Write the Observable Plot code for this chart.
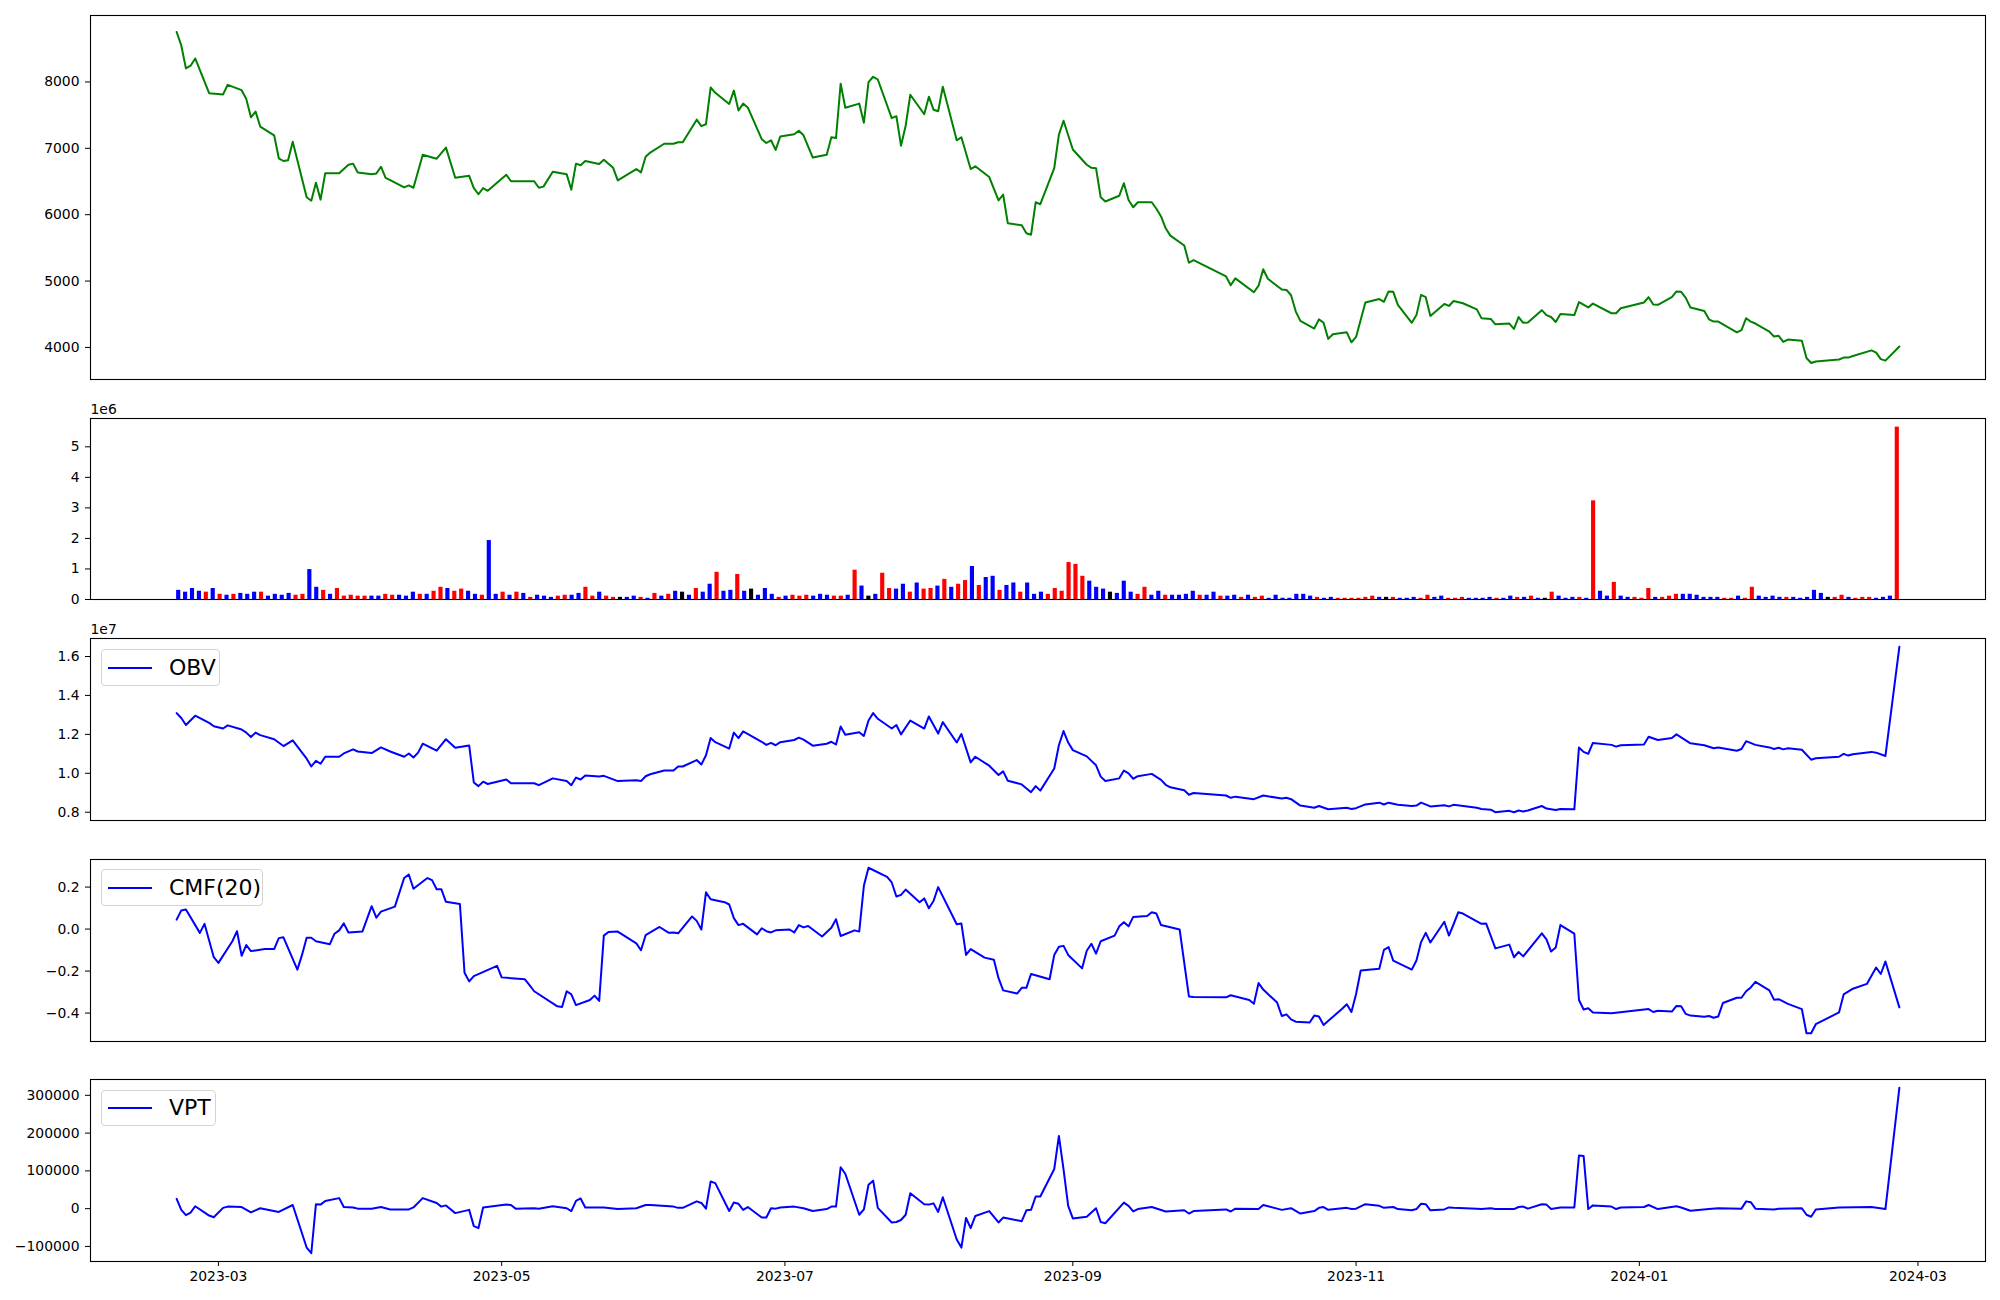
<!DOCTYPE html>
<html>
<head>
<meta charset="utf-8">
<script src="https://cdn.jsdelivr.net/npm/d3@7"></script>
<script src="https://cdn.jsdelivr.net/npm/@observablehq/plot@0.6"></script>
<style>
  html, body { margin: 0; padding: 0; background: #fff; }
  #fig { position: relative; width: 2000px; height: 1300px; overflow: hidden; background: #fff; font-family: "DejaVu Sans", sans-serif; }
  .panel { position: absolute; left: 0; }
  .legend { position: absolute; box-sizing: border-box; border: 1px solid #d4d4d4; border-radius: 4px; background: rgba(255,255,255,0.85);
            display: flex; align-items: center; font-family: "DejaVu Sans", sans-serif; font-size: 22px; color: #000; }
  .legend .swatch { display: inline-block; width: 44px; height: 2px; margin-left: 6px; }
  .legend .label { margin-left: 17px; line-height: 1; }
</style>
</head>
<body>
<div id="fig"></div>
<script>
// ---------------- data ----------------
const START_DATE = "2023-02-20";           // first trading day shown
const END_DAY = 371;                       // last trading day: 2024-02-26 (days after START_DATE)
const X_TICKS = ["2023-03-01","2023-05-01","2023-07-01","2023-09-01","2023-11-01","2024-01-01","2024-03-01"];

// closing price: [calendar days after START_DATE, price]
const PRICE = [[0,8752],[1,8550],[2,8204],[3,8245],[4,8354],[7,7830],[10,7812],[11,7957],[14,7876],[15,7743],[16,7467],[17,7553],[18,7328],[21,7196],[22,6850],[23,6809],[24,6821],[25,7098],[28,6262],[29,6210],[30,6481],[31,6227],[32,6625],[35,6625],[37,6752],[38,6769],[39,6637],[42,6608],[43,6619],[44,6723],[45,6556],[46,6521],[49,6412],[50,6441],[51,6406],[53,6902],[56,6844],[58,7011],[60,6556],[63,6585],[64,6400],[65,6308],[66,6400],[67,6360],[71,6602],[72,6504],[77,6504],[78,6406],[79,6423],[81,6648],[84,6608],[85,6377],[86,6769],[87,6746],[88,6810],[91,6763],[92,6827],[94,6706],[95,6516],[99,6688],[100,6637],[101,6873],[102,6936],[105,7069],[107,7069],[108,7092],[109,7092],[112,7432],[113,7334],[114,7363],[115,7916],[116,7836],[119,7668],[120,7870],[121,7570],[122,7674],[123,7616],[126,7138],[127,7080],[128,7121],[129,6977],[130,7178],[133,7213],[134,7265],[135,7196],[137,6861],[140,6902],[141,7167],[142,7155],[143,7974],[144,7611],[147,7674],[148,7386],[149,7997],[150,8078],[151,8037],[154,7455],[155,7484],[156,7040],[157,7340],[158,7807],[161,7513],[162,7778],[163,7582],[164,7559],[165,7928],[168,7121],[169,7167],[171,6688],[172,6729],[175,6567],[177,6216],[178,6302],[179,5870],[182,5841],[183,5720],[184,5697],[185,6187],[186,6158],[189,6700],[190,7207],[191,7415],[193,6982],[196,6752],[197,6706],[198,6700],[199,6262],[200,6198],[203,6285],[204,6475],[205,6222],[206,6112],[207,6187],[210,6187],[211,6089],[212,5974],[213,5795],[214,5685],[217,5536],[218,5276],[219,5317],[226,5069],[227,4936],[228,5040],[232,4832],[233,4930],[234,5178],[235,5034],[238,4873],[239,4867],[240,4786],[241,4544],[242,4400],[245,4285],[246,4423],[247,4371],[248,4129],[249,4198],[252,4227],[253,4077],[254,4158],[256,4677],[259,4729],[260,4688],[261,4844],[262,4838],[263,4642],[266,4371],[267,4487],[268,4792],[269,4757],[270,4475],[273,4654],[274,4625],[275,4700],[277,4665],[280,4573],[281,4441],[283,4429],[284,4348],[287,4360],[288,4279],[289,4458],[290,4371],[291,4377],[294,4562],[295,4487],[296,4458],[297,4383],[298,4504],[301,4487],[302,4683],[304,4602],[305,4660],[309,4515],[310,4515],[311,4590],[316,4677],[317,4757],[318,4648],[319,4642],[322,4757],[323,4844],[324,4838],[325,4746],[326,4602],[329,4550],[330,4423],[331,4389],[332,4389],[336,4227],[337,4262],[338,4440],[339,4389],[340,4360],[343,4239],[344,4164],[345,4175],[346,4083],[347,4118],[350,4100],[351,3841],[352,3766],[353,3789],[358,3818],[359,3847],[360,3847],[361,3870],[365,3956],[366,3922],[367,3824],[368,3801],[371,4014]];

// daily volume in millions (one bar per trading day, in order) and day direction (r = up, b = down, k = unchanged)
const VOLUME_M = [
  .30,.24,.36,.27,.24,.36,.17,.14,.17,.20, .17,.24,.24,.11,.17,.14,.20,.14,.17,.98,
  .40,.30,.17,.36,.11,.14,.11,.11,.11,.11, .17,.14,.14,.11,.24,.17,.17,.27,.40,.36,
  .27,.34,.27,.17,.14,1.93,.17,.24,.14,.24, .20,.07,.14,.11,.07,.11,.14,.14,.20,.40,
  .11,.24,.11,.07,.07,.07,.11,.07,.04,.20, .11,.17,.27,.24,.14,.36,.24,.50,.89,.27,
  .30,.82,.27,.34,.14,.36,.17,.07,.11,.14, .11,.14,.11,.17,.14,.11,.11,.14,.96,.44,
  .11,.17,.86,.36,.34,.50,.24,.54,.34,.36, .44,.66,.40,.50,.62,1.08,.46,.72,.76,.30,
  .46,.54,.24,.54,.17,.24,.17,.36,.27,1.21, 1.15,.76,.60,.40,.34,.24,.20,.60,.24,.17,
  .40,.14,.27,.14,.14,.14,.17,.27,.14,.14, .24,.11,.11,.14,.07,.14,.07,.11,.04,.14,
  .04,.04,.17,.17,.11,.07,.04,.07,.04,.04, .04,.04,.07,.11,.07,.07,.07,.04,.04,.07,
  .04,.14,.07,.11,.04,.04,.07,.04,.04,.04, .07,.04,.04,.11,.07,.07,.11,.04,.04,.24,
  .11,.04,.07,.07,.04,3.23,.27,.11,.56,.11, .07,.07,.04,.36,.07,.07,.11,.17,.17,.17,
  .14,.07,.07,.07,.04,.04,.11,.04,.40,.11, .07,.11,.07,.07,.07,.04,.07,.30,.20,.07,
  .07,.14,.07,.04,.07,.07,.04,.07,.11,5.645
];
const VOLUME_DIR = (
  "bbbbrbrbrb" + "bbrbbbbrrb" + "brbrrrrrbb" + "rrbbbrbrrb" + "rrbbrbbrbr" +
  "brbbbrrbbr" + "rbrrkbbrbr" + "brbkbrbbrb" + "brbkbbbrbr" + "rrbbbrrbrb" +
  "kbrrbbrbrr" + "brbrrbrbbr" + "bbrbbbrrrr" + "rrbbbkbbbr" + "rbbrbbbbrb" +
  "brbbrbrrbb" + "bbbbbrbbrr" + "rrrrbkrbbb" + "rrbbrrrbbb" + "brbbrbrbkr" +
  "bbbrbrbbrb" + "brrrbrrrbb" + "bbbbrrbrrb" + "bbbrbbbbbk" + "rrbrrrbbbr"
).split("");

// On-Balance Volume in units of 1e7
const OBV_E7 = [[0,1.309],[1,1.284],[2,1.248],[4,1.296],[7,1.259],[8,1.242],[10,1.230],[11,1.246],[14,1.225],[15,1.209],[16,1.186],[17,1.209],[18,1.196],[21,1.175],[23,1.140],[25,1.169],[28,1.075],[29,1.035],[30,1.064],[31,1.049],[32,1.085],[35,1.085],[36,1.102],[38,1.123],[39,1.112],[42,1.104],[44,1.133],[46,1.112],[49,1.085],[50,1.102],[51,1.081],[52,1.106],[53,1.152],[56,1.116],[58,1.175],[60,1.131],[63,1.143],[64,0.953],[65,0.934],[66,0.957],[67,0.945],[71,0.968],[72,0.949],[77,0.949],[78,0.939],[81,0.974],[84,0.960],[85,0.939],[86,0.978],[87,0.968],[88,0.989],[91,0.983],[92,0.987],[95,0.960],[99,0.964],[100,0.960],[101,0.985],[102,0.995],[105,1.014],[107,1.014],[108,1.035],[109,1.035],[112,1.068],[113,1.045],[114,1.093],[115,1.181],[116,1.160],[119,1.127],[120,1.209],[121,1.181],[122,1.215],[126,1.162],[127,1.146],[128,1.156],[129,1.144],[130,1.160],[133,1.171],[134,1.183],[135,1.173],[137,1.142],[140,1.152],[141,1.162],[142,1.148],[143,1.240],[144,1.198],[147,1.211],[148,1.192],[149,1.271],[150,1.309],[151,1.280],[154,1.230],[155,1.248],[156,1.200],[158,1.271],[161,1.230],[162,1.292],[164,1.204],[165,1.263],[168,1.158],[169,1.202],[171,1.056],[172,1.085],[175,1.039],[177,0.991],[178,1.010],[179,0.962],[182,0.943],[184,0.903],[185,0.934],[186,0.911],[189,1.025],[190,1.144],[191,1.217],[192,1.158],[193,1.119],[196,1.087],[198,1.041],[199,0.983],[200,0.960],[203,0.974],[204,1.014],[205,1.000],[206,0.972],[207,0.985],[210,0.997],[212,0.966],[213,0.941],[214,0.928],[217,0.913],[218,0.890],[219,0.899],[226,0.886],[227,0.874],[228,0.880],[232,0.867],[234,0.886],[238,0.870],[239,0.874],[240,0.867],[242,0.834],[245,0.823],[246,0.832],[248,0.815],[252,0.823],[253,0.817],[254,0.821],[256,0.840],[259,0.849],[260,0.840],[261,0.849],[263,0.838],[266,0.832],[267,0.834],[268,0.849],[270,0.830],[273,0.836],[274,0.830],[275,0.838],[280,0.823],[281,0.817],[283,0.813],[284,0.800],[287,0.807],[288,0.800],[289,0.809],[290,0.804],[291,0.809],[294,0.832],[295,0.819],[297,0.811],[298,0.817],[301,0.815],[302,1.133],[303,1.110],[304,1.100],[305,1.156],[309,1.146],[310,1.137],[311,1.144],[316,1.148],[317,1.188],[319,1.171],[322,1.181],[323,1.200],[324,1.185],[326,1.154],[329,1.144],[331,1.129],[332,1.133],[336,1.116],[337,1.125],[338,1.165],[340,1.146],[343,1.133],[344,1.125],[345,1.131],[346,1.123],[347,1.129],[350,1.121],[352,1.070],[353,1.077],[358,1.085],[359,1.100],[360,1.091],[361,1.098],[365,1.110],[366,1.106],[368,1.089],[371,1.650]];

// Chaikin Money Flow (20)
const CMF20 = [[0,0.045],[1,0.089],[2,0.093],[5,-0.018],[6,0.025],[8,-0.134],[9,-0.161],[12,-0.058],[13,-0.010],[14,-0.127],[15,-0.076],[16,-0.105],[19,-0.095],[21,-0.095],[22,-0.043],[23,-0.039],[26,-0.193],[27,-0.123],[28,-0.041],[29,-0.041],[30,-0.058],[33,-0.072],[34,-0.022],[35,-0.006],[36,0.027],[37,-0.016],[40,-0.012],[42,0.109],[43,0.054],[44,0.083],[47,0.107],[49,0.243],[50,0.260],[51,0.192],[54,0.243],[55,0.233],[56,0.190],[57,0.190],[58,0.130],[61,0.120],[62,-0.208],[63,-0.249],[64,-0.224],[69,-0.175],[70,-0.230],[75,-0.239],[76,-0.267],[77,-0.296],[82,-0.368],[83,-0.371],[84,-0.296],[85,-0.311],[86,-0.362],[89,-0.338],[90,-0.317],[91,-0.342],[92,-0.031],[93,-0.014],[95,-0.012],[99,-0.068],[100,-0.101],[101,-0.029],[104,0.010],[106,-0.018],[107,-0.016],[108,-0.020],[111,0.060],[112,0.039],[113,-0.002],[114,0.175],[115,0.142],[118,0.128],[119,0.117],[120,0.052],[121,0.019],[122,0.025],[125,-0.025],[126,0.004],[127,-0.010],[128,-0.016],[129,-0.006],[132,-0.002],[133,-0.016],[134,0.019],[135,0.008],[136,0.015],[139,-0.035],[141,0.006],[142,0.047],[143,-0.033],[146,-0.006],[147,-0.012],[148,0.206],[149,0.292],[153,0.249],[154,0.222],[155,0.155],[156,0.163],[157,0.188],[160,0.128],[161,0.146],[162,0.099],[163,0.134],[164,0.200],[168,0.023],[169,0.027],[170,-0.123],[171,-0.095],[174,-0.136],[176,-0.146],[177,-0.234],[178,-0.292],[181,-0.307],[182,-0.280],[183,-0.280],[184,-0.214],[188,-0.239],[189,-0.123],[190,-0.084],[191,-0.080],[192,-0.123],[195,-0.187],[196,-0.103],[197,-0.070],[198,-0.117],[199,-0.058],[202,-0.031],[203,0.013],[204,0.033],[205,0.013],[206,0.058],[209,0.062],[210,0.080],[211,0.074],[212,0.019],[216,-0.002],[218,-0.321],[219,-0.323],[226,-0.325],[227,-0.315],[231,-0.338],[232,-0.356],[233,-0.257],[234,-0.288],[237,-0.350],[238,-0.414],[239,-0.406],[240,-0.430],[241,-0.441],[244,-0.445],[245,-0.412],[246,-0.416],[247,-0.457],[251,-0.379],[252,-0.358],[253,-0.395],[254,-0.309],[255,-0.197],[259,-0.189],[260,-0.099],[261,-0.086],[262,-0.150],[266,-0.193],[267,-0.150],[268,-0.062],[269,-0.018],[270,-0.064],[273,0.035],[274,-0.031],[275,0.023],[276,0.080],[277,0.074],[281,0.025],[282,0.027],[284,-0.092],[287,-0.074],[288,-0.134],[289,-0.109],[290,-0.130],[294,-0.020],[295,-0.049],[296,-0.107],[297,-0.088],[298,0.019],[301,-0.022],[302,-0.338],[303,-0.383],[304,-0.377],[305,-0.397],[309,-0.401],[317,-0.381],[318,-0.395],[319,-0.389],[322,-0.393],[323,-0.366],[324,-0.368],[325,-0.404],[326,-0.412],[329,-0.418],[330,-0.414],[331,-0.422],[332,-0.416],[333,-0.352],[336,-0.327],[337,-0.327],[338,-0.296],[339,-0.278],[340,-0.251],[343,-0.292],[344,-0.336],[345,-0.334],[347,-0.356],[350,-0.381],[351,-0.496],[352,-0.496],[353,-0.453],[358,-0.397],[359,-0.311],[361,-0.284],[364,-0.261],[366,-0.183],[367,-0.214],[368,-0.154],[371,-0.373]];

// Volume Price Trend
const VPT = [[0,25800],[1,-3200],[2,-17200],[3,-10700],[4,6400],[7,-18300],[8,-22600],[10,2100],[11,5400],[14,4300],[16,-9700],[18,1100],[22,-8600],[25,9700],[28,-103000],[29,-118000],[30,11800],[31,10700],[32,20400],[35,27900],[36,4300],[38,3200],[39,0],[42,0],[44,4300],[46,-2100],[50,-2100],[51,3200],[53,27900],[56,15000],[57,5400],[58,8600],[60,-11800],[63,-3200],[64,-46200],[65,-51600],[66,3200],[71,10700],[72,9700],[73,0],[77,1100],[78,0],[81,6400],[84,1100],[85,-6400],[86,20400],[87,26900],[88,3200],[92,3200],[95,-1100],[99,1100],[101,9700],[102,9700],[107,5400],[108,2100],[109,2100],[112,19300],[113,15000],[114,0],[115,72000],[116,67700],[119,-6400],[120,16100],[121,12900],[122,-3200],[123,4300],[126,-23600],[127,-23600],[128,1100],[129,0],[130,3200],[133,5400],[135,1100],[137,-6400],[140,-1100],[141,5400],[142,5400],[143,109600],[144,92400],[147,-16100],[148,-2100],[149,63400],[150,74100],[151,2100],[154,-36500],[155,-35400],[156,-30100],[157,-16100],[158,40800],[161,11800],[162,10700],[163,14000],[164,-8600],[165,30100],[168,-81600],[169,-103100],[170,-24700],[171,-51600],[172,-19300],[175,-6400],[177,-36500],[178,-23600],[182,-33300],[183,-4300],[184,-3200],[185,32200],[186,32200],[189,105000],[190,192500],[191,104200],[192,7500],[193,-25800],[196,-21500],[198,1100],[199,-35400],[200,-38700],[204,16100],[205,7500],[206,-7500],[207,-1100],[210,4300],[213,-7500],[217,-4300],[218,-12900],[219,-6400],[226,-2100],[227,-7500],[228,0],[233,-1100],[234,9700],[238,-3200],[240,1100],[242,-12900],[245,-6400],[246,2100],[247,4300],[248,-3200],[252,2100],[253,-1100],[254,0],[256,11800],[259,7500],[260,2100],[262,4300],[263,-1100],[266,-4300],[267,-1100],[268,12900],[269,11800],[270,-4300],[273,-2100],[274,3200],[275,2100],[280,0],[281,-1100],[283,1100],[284,-1100],[288,-1100],[289,4300],[290,5400],[291,0],[294,11800],[295,10700],[296,-1100],[298,3200],[301,3200],[302,140700],[303,139600],[304,-1100],[305,8600],[309,5400],[310,-1100],[311,3200],[316,4300],[317,9700],[319,-1100],[323,6400],[324,3200],[326,-5400],[330,-1100],[332,1100],[337,0],[338,19300],[339,17200],[340,0],[344,-2100],[345,0],[350,1100],[351,-16100],[352,-21500],[353,-2100],[358,3200],[365,4300],[368,-1100],[371,320000]];

const PRICE_TICKS = [4000, 5000, 6000, 7000, 8000];
const VOLUME_TICKS = [0, 1, 2, 3, 4, 5];
const OBV_TICKS = [0.8, 1.0, 1.2, 1.4, 1.6];
const CMF_TICKS = [-0.4, -0.2, 0.0, 0.2];
const VPT_TICKS = [-100000, 0, 100000, 200000, 300000];

// ---------------- helpers ----------------
const start = new Date(START_DATE + "T00:00:00Z");
const toDate = d => d3.utcDay.offset(start, d);
const toRows = arr => arr.map(([d, v]) => ({date: toDate(d), value: v}));
const end = toDate(END_DAY);
const span = end - start;
const xDomain = [new Date(+start - 0.05 * span), new Date(+end + 0.05 * span)];
const padded = vals => { const [a, b] = d3.extent(vals); const r = b - a; return [a - 0.05 * r, b + 0.05 * r]; };

const FONT = "DejaVu Sans";
const baseStyle = {fontFamily: FONT, fontSize: "13.9px", color: "#000", background: "white", overflow: "visible"};
const fig = document.getElementById("fig");

function place(svg, top) {
  svg.classList.add("panel");
  svg.style.position = "absolute";
  svg.style.top = top + "px";
  svg.style.left = "0px";
  fig.appendChild(svg);
}

function linePanel({rows, color, ticks, fmt, top, height, mt, mb, showX, offset}) {
  const marks = [
    Plot.line(rows, {x: "date", y: "value", stroke: color, strokeWidth: 2}),
    Plot.frame({stroke: "#000", strokeWidth: 1.1})
  ];
  if (offset) marks.push(Plot.text([offset], {frameAnchor: "top-left", text: d => d, dy: -5, lineAnchor: "bottom", textAnchor: "start", fontSize: 13.9}));
  const svg = Plot.plot({
    width: 2000, height, marginLeft: 90, marginRight: 15, marginTop: mt, marginBottom: mb,
    style: baseStyle,
    x: {type: "utc", domain: xDomain, axis: showX ? "bottom" : null, ticks: X_TICKS.map(s => new Date(s + "T00:00:00Z")),
        tickFormat: d3.utcFormat("%Y-%m"), tickSize: 5, tickPadding: 5, label: null},
    y: {domain: padded(rows.map(r => r.value)), ticks, tickFormat: fmt, tickSize: 5, tickPadding: 6, label: null},
    marks
  });
  place(svg, top);
}

function legend(text, left, top, width, height) {
  const div = document.createElement("div");
  div.className = "legend";
  Object.assign(div.style, {left: left + "px", top: top + "px", width: width + "px", height: height + "px"});
  div.innerHTML = `<span class="swatch" style="background:#0000ff"></span><span class="label">${text}</span>`;
  fig.appendChild(div);
}

// ---------------- panel 1: price ----------------
linePanel({rows: toRows(PRICE), color: "#008000", ticks: PRICE_TICKS, fmt: d3.format("d"),
           top: 0, height: 398, mt: 15, mb: 19, showX: false});

// ---------------- panel 2: volume bars (indexed by trading day) ----------------
{
  const n = VOLUME_M.length, w = 0.3;
  const lo = -w, hi = n - 1 + w, r = hi - lo;
  const bars = VOLUME_M.map((v, i) => ({i, v, dir: VOLUME_DIR[i]}));
  const colorOf = {r: "#ff0000", b: "#0000ff", k: "#000000"};
  const svg = Plot.plot({
    width: 2000, height: 221, marginLeft: 90, marginRight: 15, marginTop: 20, marginBottom: 20,
    style: baseStyle,
    x: {type: "linear", domain: [lo - 0.05 * r, hi + 0.05 * r], axis: null},
    y: {domain: [0, d3.max(VOLUME_M) * 1.05], ticks: VOLUME_TICKS, tickFormat: d3.format("d"), tickSize: 5, tickPadding: 6, label: null},
    marks: [
      Plot.rectY(bars, {x1: d => d.i - w, x2: d => d.i + w, y: "v", fill: d => colorOf[d.dir]}),
      Plot.frame({stroke: "#000", strokeWidth: 1.1}),
      Plot.text(["1e6"], {frameAnchor: "top-left", text: d => d, dy: -5, lineAnchor: "bottom", textAnchor: "start", fontSize: 13.9})
    ]
  });
  place(svg, 398);
}

// ---------------- panels 3-5: indicators ----------------
linePanel({rows: toRows(OBV_E7), color: "#0000ff", ticks: OBV_TICKS, fmt: d3.format(".1f"),
           top: 619, height: 221, mt: 19, mb: 20, showX: false, offset: "1e7"});
linePanel({rows: toRows(CMF20), color: "#0000ff", ticks: CMF_TICKS, fmt: d3.format(".1f"),
           top: 840, height: 221, mt: 19, mb: 20, showX: false});
linePanel({rows: toRows(VPT), color: "#0000ff", ticks: VPT_TICKS, fmt: d3.format("d"),
           top: 1060, height: 240, mt: 19, mb: 39, showX: true});

legend("OBV", 101, 649, 119, 37);
legend("CMF(20)", 101, 869, 162, 37);
legend("VPT", 101, 1090, 115, 36);
</script>
</body>
</html>
